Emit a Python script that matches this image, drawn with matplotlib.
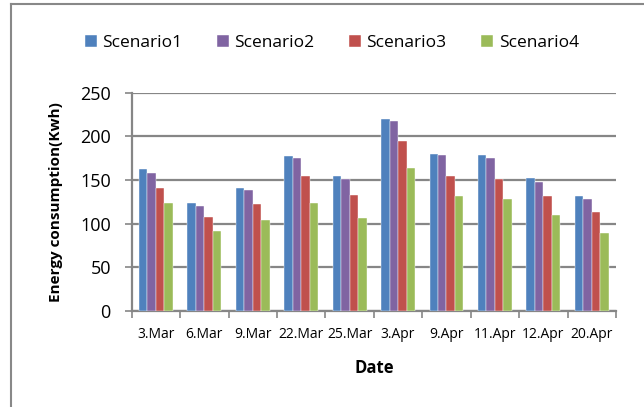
import matplotlib.pyplot as plt
import numpy as np
from matplotlib.lines import Line2D

plt.rcParams['font.family'] = ['Open Sans', 'DejaVu Sans']

# Data
dates = ['3.Mar', '6.Mar', '9.Mar', '22.Mar', '25.Mar',
         '3.Apr', '9.Apr', '11.Apr', '12.Apr', '20.Apr']
scenario1 = [163, 123, 141, 177, 154, 220, 180, 178, 152, 131]
scenario2 = [158, 120, 138, 175, 151, 218, 179, 175, 148, 128]
scenario3 = [141, 107, 122, 155, 133, 195, 154, 151, 132, 113]
scenario4 = [124, 91, 104, 123, 106, 164, 131, 128, 110, 89]
series_names = ['Scenario1', 'Scenario2', 'Scenario3', 'Scenario4']
colors = ['#4F81BD', '#8064A2', '#C0504D', '#9BBB59']

fig = plt.figure(figsize=(6.44, 4.07), dpi=100)
ax = fig.add_axes([0.2045, 0.2366, 0.752, 0.5356])

x = np.arange(len(dates))
width = 0.175
all_series = [scenario1, scenario2, scenario3, scenario4]
for i, vals in enumerate(all_series):
    ax.bar(x + (i - 1.5) * width, vals, width, color=colors[i],
           label=series_names[i], edgecolor='white', linewidth=0.3, zorder=3)

ax.set_xlim(-0.5, len(dates) - 0.5)
ax.set_ylim(0, 250)
ax.set_yticks(range(0, 251, 50))
ax.set_xticks(x)
ax.set_xticklabels(dates, fontsize=10)
ax.set_xticks(np.arange(-0.5, len(dates), 1), minor=True)
ax.tick_params(axis='x', which='major', length=0, pad=12)
ax.tick_params(axis='x', which='minor', length=5, color='#868686', width=1.2)
ax.tick_params(axis='y', length=5, color='#868686', width=1.2, labelsize=13, pad=10)

ax.grid(axis='y', color='#868686', linewidth=1.6, zorder=0)
for s in ['top', 'right']:
    ax.spines[s].set_visible(False)
for s in ['left', 'bottom']:
    ax.spines[s].set_color('#868686')
    ax.spines[s].set_linewidth(1.6)

ax.set_xlabel('Date', fontsize=12, fontweight='bold', labelpad=12)
ax.set_ylabel('Energy consumption(Kwh)', fontsize=11, fontweight='bold', labelpad=12)

# Legend across the top
fig.legend(loc='center', bbox_to_anchor=(0.515, 0.894), ncol=4, frameon=False,
           fontsize=12.5, handlelength=0.7, handleheight=0.7, handletextpad=0.3,
           columnspacing=2.0)

# Outer chart border (left and top visible)
fig.add_artist(Line2D([11 / 644, 11 / 644], [0, 1 - 4 / 407],
                      transform=fig.transFigure, color='#888888', linewidth=1.5))
fig.add_artist(Line2D([11 / 644, 1], [1 - 4 / 407, 1 - 4 / 407],
                      transform=fig.transFigure, color='#888888', linewidth=1.5))

fig.savefig('out.png', dpi=100)
